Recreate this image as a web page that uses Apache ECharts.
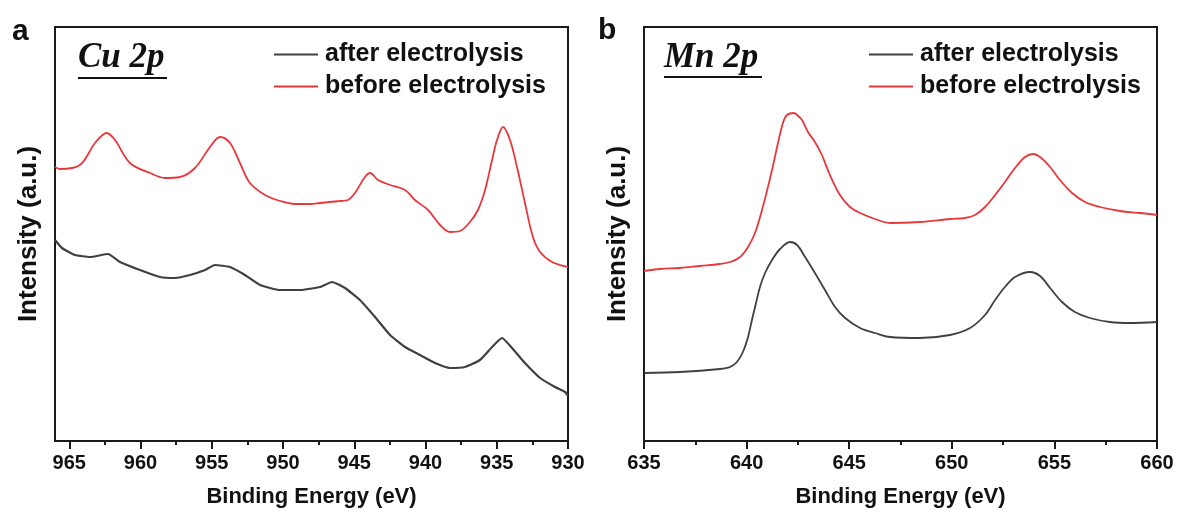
<!DOCTYPE html>
<html>
<head>
<meta charset="utf-8">
<script src="https://cdn.jsdelivr.net/npm/echarts@6/dist/echarts.min.js"></script>
<style>
html, body { margin: 0; padding: 0; background: #fff; }
#main { width: 1181px; height: 527px; }
</style>
</head>
<body>
<div id="main"></div>
<script>
// Cu 2p (panel a) - binding energy (eV) and intensity (a.u.)
var cuBeforeE = [966.0, 965.65, 964.25, 963.19, 962.37, 961.79, 960.74, 959.33, 958.28, 957.23, 956.18, 955.12, 954.42, 953.72, 953.02, 952.32, 951.26, 950.21, 949.16, 948.11, 947.4, 946.0, 945.44, 944.95, 944.25, 943.89, 943.33, 942.49, 941.44, 940.74, 939.82, 938.98, 938.28, 937.58, 936.88, 936.32, 935.82, 935.33, 934.98, 934.56, 934.07, 933.58, 933.02, 932.46, 931.96, 931.12, 930.0];
var cuBeforeI = [274, 272, 276, 298, 308, 301, 278, 268, 263, 264, 273, 294, 304, 298, 278, 258, 246, 240, 237, 237, 238, 240, 241, 248, 264, 268, 261, 256, 251, 241, 231, 216, 209, 210, 219, 231, 251, 281, 301, 314, 301, 274, 238, 204, 189, 179, 174];

var cuAfterE = [966.0, 965.51, 964.6, 963.54, 962.28, 961.44, 960.04, 958.63, 957.58, 956.53, 955.47, 954.77, 953.72, 952.67, 951.61, 950.21, 948.81, 947.4, 946.56, 945.65, 944.6, 943.54, 942.49, 941.44, 940.39, 939.33, 938.28, 937.23, 936.18, 935.33, 934.63, 933.93, 933.02, 931.96, 930.91, 930.21, 930.0];
var cuAfterI = [201, 193, 186, 184, 187, 179, 171, 164, 163, 166, 171, 176, 174, 166, 156, 151, 151, 154, 159, 153, 141, 124, 106, 94, 86, 78, 73, 74, 81, 94, 103, 93, 78, 63, 54, 49, 45];

// Mn 2p (panel b)
var mnBeforeE = [635.0, 635.78, 636.75, 637.73, 638.7, 639.19, 639.68, 640.07, 640.41, 640.75, 641.04, 641.24, 641.53, 641.77, 641.97, 642.31, 642.46, 642.7, 642.99, 643.33, 643.67, 644.06, 644.55, 645.04, 645.53, 646.26, 646.99, 648.45, 649.91, 650.64, 651.13, 651.62, 652.11, 652.59, 653.08, 653.57, 653.96, 654.3, 654.79, 655.27, 655.86, 656.49, 657.22, 658.2, 659.17, 660.0];
var mnBeforeI = [170, 172, 173, 175, 177, 179, 184, 194, 208, 231, 254, 271, 298, 318, 326, 328, 326, 321, 309, 299, 286, 266, 246, 234, 228, 222, 218, 219, 222, 223, 226, 234, 246, 259, 273, 284, 287, 284, 274, 261, 248, 239, 234, 230, 228, 226];

var mnAfterE = [635.0, 636.75, 638.7, 639.19, 639.53, 639.82, 640.07, 640.26, 640.46, 640.65, 640.9, 641.24, 641.63, 642.12, 642.46, 642.85, 643.33, 643.82, 644.31, 644.8, 645.53, 646.26, 646.99, 648.45, 649.91, 650.89, 651.62, 652.11, 652.59, 653.08, 653.81, 654.3, 654.79, 655.37, 656.0, 656.73, 657.71, 658.68, 660.0];
var mnAfterI = [68, 69, 72, 74, 79, 89, 104, 121, 138, 154, 168, 181, 192, 199, 196, 184, 168, 151, 134, 123, 113, 108, 104, 103, 106, 113, 126, 141, 154, 164, 169, 165, 153, 139, 129, 123, 119, 118, 119];

var cuMajorTicks = [930, 935, 940, 945, 950, 955, 960, 965];
var cuMinorTicks = [932.5, 937.5, 942.5, 947.5, 952.5, 957.5, 962.5];

var nameAfter = 'after electrolysis';
var nameBefore = 'before electrolysis';
var colAfter = '#404040';
var colBefore = '#e8383b';

function zip(xs, ys) {
	var out = [];
	for (var i = 0; i < xs.length; i++) out.push([xs[i], ys[i]]);
	return out;
}

var chart = echarts.init(document.getElementById('main'));

var fontSans = 'Liberation Sans, Arial, sans-serif';
var fontSerif = 'Liberation Serif, Times New Roman, serif';
var frameCol = '#1a1a1a';

function mainX(idx, min, max, inverse, custom) {
	var ax = {
		type: 'value',
		gridIndex: idx,
		min: min,
		max: max,
		inverse: inverse,
		interval: 5,
		position: 'bottom',
		name: 'Binding Energy (eV)',
		nameLocation: 'middle',
		nameGap: 45,
		nameTextStyle: { fontFamily: fontSans, fontWeight: 'bold', fontSize: 22, color: '#111' },
		axisLine: { show: true, lineStyle: { color: frameCol, width: 2 } },
		axisTick: { show: true, inside: false, length: 8, lineStyle: { color: frameCol, width: 2 } },
		axisLabel: { show: true, margin: 12, fontFamily: fontSans, fontWeight: 'bold', fontSize: 20, color: '#111' },
		splitLine: { show: false }
	};
	if (custom) {
		ax.axisTick.customValues = custom;
		ax.axisLabel.customValues = custom;
	} else {
		ax.minorTick = { show: true, splitNumber: 2, length: 4, lineStyle: { color: frameCol, width: 2 } };
	}
	return ax;
}

function legendAt(x) {
	return {
		left: x, top: 42, orient: 'vertical', padding: 0,
		icon: 'rect', itemWidth: 44, itemHeight: 2, itemGap: 7,
		data: [nameAfter, nameBefore],
		textStyle: { fontFamily: fontSans, fontWeight: 'bold', fontSize: 25, color: '#111', padding: [0, 0, 0, 2] }
	};
}

var option = {
	animation: false,
	backgroundColor: '#fff',
	grid: [
		{ left: 55, top: 27, width: 513, height: 414, show: true, borderColor: frameCol, borderWidth: 2, backgroundColor: 'transparent' },
		{ left: 644, top: 27, width: 513, height: 414, show: true, borderColor: frameCol, borderWidth: 2, backgroundColor: 'transparent' }
	],
	xAxis: [
		mainX(0, 930, 966, true, cuMajorTicks),
		mainX(1, 635, 660, false, null),
		{
			// minor ticks of panel a
			type: 'value', gridIndex: 0, min: 930, max: 966, inverse: true, position: 'bottom', offset: 0,
			axisLine: { show: false },
			axisTick: { show: true, inside: false, length: 4, customValues: cuMinorTicks, lineStyle: { color: frameCol, width: 2 } },
			axisLabel: { show: false },
			splitLine: { show: false }
		}
	],
	yAxis: [0, 1].map(function (i) {
		return {
			type: 'value',
			gridIndex: i,
			min: 0,
			max: 414,
			name: 'Intensity (a.u.)',
			nameLocation: 'middle',
			nameGap: 13,
			nameTextStyle: { fontFamily: fontSans, fontWeight: 'bold', fontSize: 26, color: '#111' },
			axisLine: { show: false },
			axisTick: { show: false },
			axisLabel: { show: false },
			splitLine: { show: false }
		};
	}),
	legend: [legendAt(274), legendAt(869)],
	series: [
		{ name: nameAfter, type: 'line', xAxisIndex: 0, yAxisIndex: 0, symbol: 'none', smooth: 0.15, data: zip(cuAfterE, cuAfterI), lineStyle: { color: colAfter, width: 2.2 }, itemStyle: { color: colAfter } },
		{ name: nameBefore, type: 'line', xAxisIndex: 0, yAxisIndex: 0, symbol: 'none', smooth: 0.35, data: zip(cuBeforeE, cuBeforeI), lineStyle: { color: colBefore, width: 1.8 }, itemStyle: { color: colBefore } },
		{ name: nameAfter, type: 'line', xAxisIndex: 1, yAxisIndex: 1, symbol: 'none', smooth: 0.35, data: zip(mnAfterE, mnAfterI), lineStyle: { color: colAfter, width: 1.8 }, itemStyle: { color: colAfter } },
		{ name: nameBefore, type: 'line', xAxisIndex: 1, yAxisIndex: 1, symbol: 'none', smooth: 0.35, data: zip(mnBeforeE, mnBeforeI), lineStyle: { color: colBefore, width: 1.8 }, itemStyle: { color: colBefore } }
	],
	graphic: [
		{ type: 'text', left: 12, top: 17, style: { text: 'a', fontFamily: fontSans, fontWeight: 'bold', fontSize: 30, fill: '#111' } },
		{ type: 'text', left: 598, top: 16, style: { text: 'b', fontFamily: fontSans, fontWeight: 'bold', fontSize: 30, fill: '#111' } },
		{ type: 'text', left: 78, top: 40, style: { text: 'Cu 2p', fontFamily: fontSerif, fontStyle: 'italic', fontWeight: 'bold', fontSize: 35, fill: '#111' } },
		{ type: 'line', shape: { x1: 78, y1: 78, x2: 167, y2: 78 }, style: { stroke: '#111', lineWidth: 2 } },
		{ type: 'text', left: 664, top: 40, style: { text: 'Mn 2p', fontFamily: fontSerif, fontStyle: 'italic', fontWeight: 'bold', fontSize: 35, fill: '#111' } },
		{ type: 'line', shape: { x1: 664, y1: 77, x2: 762, y2: 77 }, style: { stroke: '#111', lineWidth: 2 } }
	]
};

chart.setOption(option);
</script>
</body>
</html>
